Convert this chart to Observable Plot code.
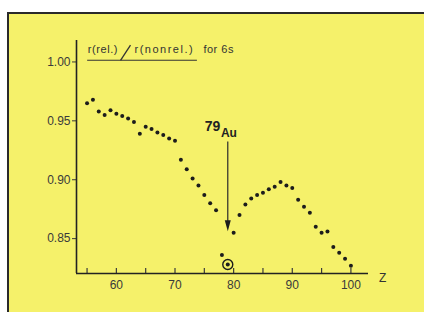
<!DOCTYPE html>
<html><head><meta charset="utf-8">
<script src="https://cdn.jsdelivr.net/npm/d3@7"></script>
<script src="https://cdn.jsdelivr.net/npm/@observablehq/plot@0.6"></script>
<style>
html,body{margin:0;padding:0;background:#fff;}
#wrap{position:relative;width:424px;height:312px;overflow:hidden;}
#paper{position:absolute;left:7px;top:12px;right:0;bottom:0;background:#f5f16a;border-top:2px solid #2a2a2a;border-left:2px solid #2a2a2a;}
#chart{position:absolute;left:0;top:0;}
</style></head><body>
<div id="wrap"><div id="paper"></div><div id="chart"></div></div>
<script>
// Atomic number Z
const zValues = [55,56,57,58,59,60,61,62,63,64,65,66,67,68,69,70,71,72,73,74,75,76,77,78,79,80,81,82,83,84,85,86,87,88,89,90,91,92,93,94,95,96,97,98,99,100];
// r(rel.)/r(nonrel.) for 6s
const ratioValues = [0.965,0.968,0.958,0.955,0.959,0.956,0.954,0.952,0.949,0.939,0.945,0.943,0.940,0.938,0.935,0.933,0.917,0.909,0.901,0.895,0.887,0.880,0.874,0.836,0.828,0.855,0.870,0.879,0.884,0.887,0.889,0.892,0.894,0.898,0.895,0.893,0.883,0.877,0.872,0.860,0.855,0.856,0.843,0.838,0.833,0.827];
const circledZ = [79];
const yTicks = [0.85, 0.90, 0.95, 1.00];
const xLabelTicks = [60, 70, 80, 90, 100];
const xMinorTicks = [55, 60, 65, 70, 75, 80, 85, 90, 95, 100];
const titleParts = ["r(rel.)", "r(nonrel.)", "for 6s"];
const elementLabel = ["79", "Au"];
const axisName = "Z";

const data = zValues.map((z, i) => ({z, r: ratioValues[i]}));
const circled = data.filter(d => circledZ.includes(d.z));
const xDomain = [53.2, 103.0];
const yDomain = [0.8204, 1.0182];
const ink = "#1c1c1c";

const arrowHead = {draw(ctx) { ctx.moveTo(0, 0); ctx.lineTo(-3, -11); ctx.lineTo(3, -11); ctx.closePath(); }};

const chart = Plot.plot({
  width: 424, height: 312,
  marginLeft: 76, marginRight: 56, marginTop: 40, marginBottom: 39,
  style: {background: "transparent", fontFamily: "Liberation Sans, Arial, sans-serif", overflow: "visible"},
  x: {domain: xDomain},
  y: {domain: yDomain},
  marks: [
    Plot.axisY(yTicks, {tickSize: 4, tickPadding: 2, tickFormat: d3.format(".2f"), fontSize: 12, color: "#3a3a3a", label: null}),
    Plot.axisX(xLabelTicks, {tickSize: 0, tickPadding: 7, fontSize: 12, color: "#3a3a3a", label: null}),
    Plot.axisX(xMinorTicks, {tickSize: -5, tickFormat: () => "", color: "#3a3a3a", strokeWidth: 1.2, label: null}),
    Plot.ruleX([xDomain[0]], {stroke: "#222", strokeWidth: 1.6}),
    Plot.ruleY([yDomain[0]], {stroke: "#222", strokeWidth: 1.6}),
    Plot.dot(data, {x: "z", y: "r", r: 2, fill: ink}),
    Plot.dot(circled, {x: "z", y: "r", r: 5, stroke: ink, strokeWidth: 1.4, fill: "none"}),
    // arrow to gold
    Plot.ruleX(circledZ, {y1: 0.9321, y2: 0.864, stroke: "#2a2a2a", strokeWidth: 1.2}),
    Plot.dot(circledZ, {x: d => d, y: () => 0.8563, symbol: arrowHead, fill: ink, stroke: "none"}),
    Plot.text([elementLabel[0]], {x: () => 77.74, y: () => 0.9412, text: d => d, textAnchor: "end", lineAnchor: "bottom", fontSize: 14, fontWeight: "bold", fill: "#222"}),
    Plot.text([elementLabel[1]], {x: () => 77.83, y: () => 0.9365, text: d => d, textAnchor: "start", lineAnchor: "bottom", fontSize: 12, fontWeight: "bold", fill: "#222"}),
    // title
    Plot.text([titleParts[0]], {x: () => 55.1, y: () => 1.0076, text: d => d, textAnchor: "start", lineAnchor: "bottom", fontSize: 11, fill: "#333"}),
    Plot.link([0], {x1: () => 60.71, y1: () => 1.0014, x2: () => 62.41, y2: () => 1.0142, stroke: "#333", strokeWidth: 1.3}),
    Plot.text([titleParts[1]], {x: () => 63.09, y: () => 1.0076, text: d => d, textAnchor: "start", lineAnchor: "bottom", fontSize: 11, fill: "#333"}),
    Plot.text([titleParts[2]], {x: () => 74.85, y: () => 1.0076, text: d => d, textAnchor: "start", lineAnchor: "bottom", fontSize: 11, fill: "#333"}),
    Plot.ruleY([1.0014], {x1: 55.1, x2: 73.82, stroke: "#333", strokeWidth: 1.1}),
    Plot.text([axisName], {x: () => 105.43, y: () => 0.8130, text: d => d, textAnchor: "middle", lineAnchor: "bottom", fontSize: 12, fill: "#333"})
  ]
});
const spacing = {"r(rel.)": "0.6px", "r(nonrel.)": "1.5px", "for 6s": "0.5px"};
chart.querySelectorAll("text").forEach(t => {
  if (spacing[t.textContent]) t.setAttribute("letter-spacing", spacing[t.textContent]);
});
document.getElementById("chart").appendChild(chart);
</script>
</body></html>
